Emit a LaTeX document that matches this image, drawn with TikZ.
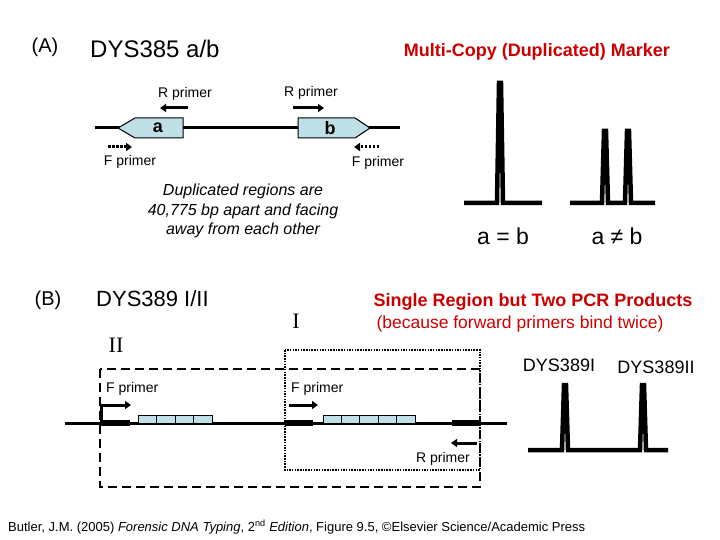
\documentclass[tikz,border=0pt]{standalone}
\usepackage{fontspec}
\setmainfont{Liberation Sans}
\newfontfamily\serifz{Liberation Serif}
\usetikzlibrary{arrows.meta}
\definecolor{boxblue}{HTML}{BFE0E6}
\definecolor{tred}{HTML}{CC0000}
\begin{document}
\begin{tikzpicture}[x=1pt,y=-1pt,
  lbl/.style={font=\fontsize{14}{16}\selectfont, inner sep=0pt},
  big/.style={font=\fontsize{23}{26}\selectfont, inner sep=0pt},
  redb/.style={font=\fontsize{18}{20}\selectfont\bfseries, text=tred, inner sep=0pt},
  dna/.style={line width=3pt},
  parr/.style={line width=3pt,-{Triangle[length=6pt,width=8pt]}},
  darr/.style={line width=3pt,dash pattern=on 2.5pt off 1.5pt,-{Triangle[length=6pt,width=8pt]}},
  rep/.style={draw,fill=boxblue,line width=1pt},
  peak/.style={line width=4.5pt,line join=miter}]
\useasboundingbox (0,0) rectangle (720,540);
% ---- A ----
\node[inner sep=0pt,font=\fontsize{20}{22}\selectfont] (A) at (45,47) {(A)};
\node[inner sep=0pt,font=\fontsize{24}{26}\selectfont,anchor=west] (t1) at (90,49) {DYS385 a/b};
\node[redb,anchor=east] (t2) at (670,52) {Multi-Copy (Duplicated) Marker};
\draw[dna] (95,128) -- (400,128);
\draw[rep] (118,128) -- (135,118) -- (183,118) -- (183,138) -- (135,138) -- cycle;
\node[inner sep=0pt,font=\fontsize{18}{20}\selectfont\bfseries] (a) at (158,128) {a};
\draw[rep] (298,118) -- (355,118) -- (370,128) -- (355,138) -- (298,138) -- cycle;
\node[inner sep=0pt,font=\fontsize{18}{20}\selectfont\bfseries] (b) at (330,128) {b};
\coordinate (r1s) at (188,108); \coordinate (r1e) at (160,108);
\draw[parr] (r1s) -- (r1e);
\node[lbl] (rl1) at (185,94) {R primer};
\coordinate (r2s) at (293,108); \coordinate (r2e) at (324,108);
\draw[parr] (r2s) -- (r2e);
\node[lbl] (rl2) at (311,93) {R primer};
\coordinate (f1s) at (108,147); \coordinate (f1e) at (132,147);
\draw[darr] (f1s) -- (f1e);
\node[lbl] (fl1) at (130,162) {F primer};
\coordinate (f2s) at (379,147); \coordinate (f2e) at (354,147);
\draw[darr] (f2s) -- (f2e);
\node[lbl] (fl2) at (378,163) {F primer};
\node[inner sep=0pt,font=\fontsize{16}{19.5}\selectfont\itshape,align=center] (dup) at (243,211) {Duplicated regions are\\40,775 bp apart and facing\\away from each other};
% peaks
\draw[peak] (464,203) -- (497,203) -- (499,83) -- (501,83) -- (503,203) -- (542,203);
\draw[peak] (570,203) -- (602,203) -- (604,131) -- (606,131) -- (608,203) -- (625,203) -- (627,131) -- (629,131) -- (631,203) -- (655,203);
\node[big] (ab1) at (503,236) {a = b};
\node[big] (ab2) at (617,236) {a ≠ b};
% ---- B ----
\node[inner sep=0pt,font=\fontsize{20}{22}\selectfont] (B) at (48,300) {(B)};
\node[inner sep=0pt,font=\fontsize{22}{24}\selectfont,anchor=west] (t3) at (96,299) {DYS389 I/II};
\node[font=\fontsize{22}{24}\selectfont\serifz, inner sep=0pt] (I) at (296,321) {I};
\node[font=\fontsize{22}{24}\selectfont\serifz, inner sep=0pt] (II) at (116,345) {II};
\node[redb] (t4) at (533,302) {Single Region but Two PCR Products};
\node[inner sep=0pt,font=\fontsize{17.5}{20}\selectfont,text=tred] (t5) at (520,324) {(because forward primers bind twice)};
\draw[line width=2.5pt,dash pattern=on 1.5pt off 1.2pt] (285,350) rectangle (480,470);
\draw[line width=2.8pt,dash pattern=on 9pt off 5pt] (100,369) rectangle (480,487);
\draw[dna] (65,423) -- (507,423);
\draw[line width=6pt] (100,423) -- (130,423) (285,423) -- (313,423) (452,423) -- (480,423);
\foreach \i in {0,...,3} \draw[rep] (138+18.5*\i,415) rectangle ++(18.5,8);
\foreach \i in {0,...,4} \draw[rep] (323+18.4*\i,415) rectangle ++(18.4,8);
\coordinate (b1s) at (101,423); \coordinate (b1e) at (131,405);
\draw[parr] (b1s) |- (b1e);
\node[lbl,anchor=west] (fl3) at (106,389) {F primer};
\coordinate (b2s) at (289,405); \coordinate (b2e) at (318,405);
\draw[parr] (b2s) -- (b2e);
\node[lbl,anchor=west] (fl4) at (291,389) {F primer};
\coordinate (b3s) at (477,443); \coordinate (b3e) at (451,443);
\draw[parr] (b3s) -- (b3e);
\node[lbl] (rl3) at (443,459) {R primer};
\node[inner sep=0pt,font=\fontsize{18}{20}\selectfont] (d1) at (559,365) {DYS389I};
\node[inner sep=0pt,font=\fontsize{18}{20}\selectfont] (d2) at (656,367) {DYS389II};
\draw[peak] (528,450) -- (562,450) -- (564,385) -- (566,385) -- (568,450) -- (640,450) -- (642,385) -- (644,385) -- (646,450) -- (668,450);
\node[inner sep=0pt,font=\fontsize{13}{15}\selectfont,anchor=west] (cite) at (8,527) {Butler, J.M. (2005) \textit{Forensic DNA Typing}, 2\textsuperscript{nd} \textit{Edition}, Figure 9.5, ©Elsevier Science/Academic Press};
\end{tikzpicture}
\end{document}
